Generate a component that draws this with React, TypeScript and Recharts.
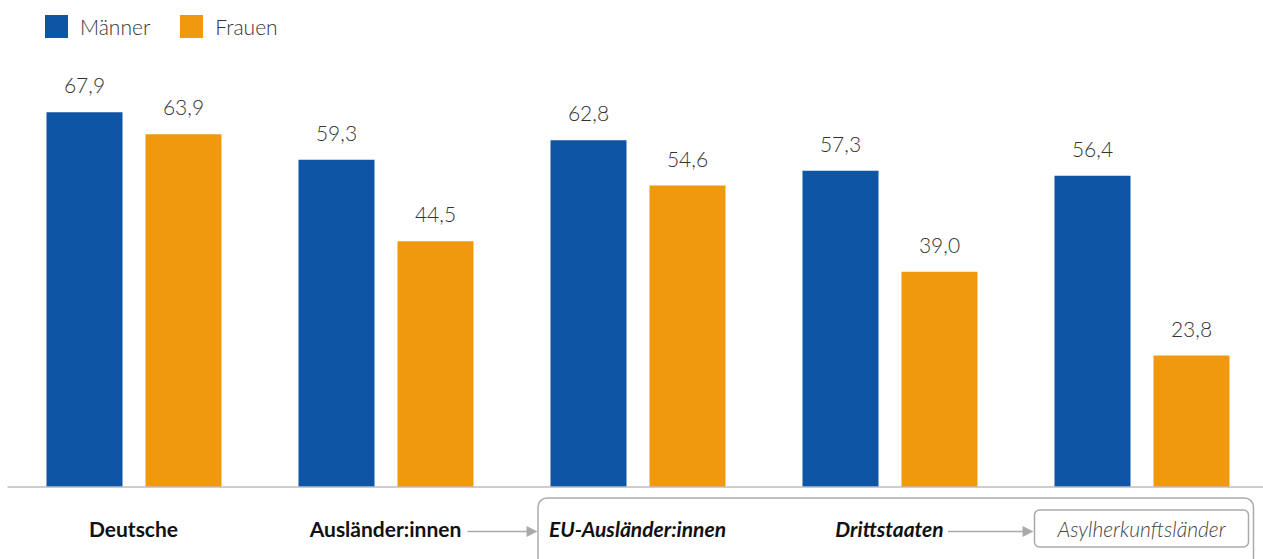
import React from 'react';
import { BarChart, Bar, XAxis, YAxis, LabelList, Legend } from 'recharts';

const categories = ['Deutsche', 'Ausländer:innen', 'EU-Ausländer:innen', 'Drittstaaten', 'Asylherkunftsländer'];
const maenner = [67.9, 59.3, 62.8, 57.3, 56.4];
const frauen = [63.9, 44.5, 54.6, 39.0, 23.8];
const seriesNames = ['Männer', 'Frauen'];

const data = categories.map((c, i) => ({ name: c, m: maenner[i], f: frauen[i] }));

const BLUE = '#0E55A6';
const ORANGE = '#F0990E';
const FONT = 'Lato, "Noto Sans", sans-serif';
const W = 1263;
const H = 559;
const MARGIN = { top: 45.4, right: -4.5, bottom: 0, left: 7.5 };
const STEP = (W - MARGIN.left - MARGIN.right) / categories.length;
const GRAY = '#AAAAAA';
const TICK_FS = 21;

const fmt = (v: any) => Number(v).toFixed(1).replace('.', ',');

const Arrow = ({ x1, x2, y }: { x1: number; x2: number; y: number }) => (
  <g>
    <line x1={x1} y1={y} x2={x2 - 10} y2={y} stroke={GRAY} strokeWidth={1.5} />
    <path d={`M${x2 - 11},${y - 5.5} L${x2},${y} L${x2 - 11},${y + 5.5} Z`} fill={GRAY} />
  </g>
);

const CategoryTick = (props: any) => {
  const { x, y, payload, index } = props;
  const ty = y + 50;
  const label = payload.value;
  if (index === 0) {
    return (
      <text x={x} y={ty} textAnchor="middle" fontFamily={FONT} fontSize={TICK_FS} fontWeight={700} fill="#111">{label}</text>
    );
  }
  if (index === 1) {
    return (
      <g>
        <text x={x} y={ty} textAnchor="middle" fontFamily={FONT} fontSize={TICK_FS} fontWeight={700} fill="#111">{label}</text>
        <Arrow x1={x + 82} x2={x + 152} y={y + 44.5} />
      </g>
    );
  }
  if (index === 2) {
    const left = x - 99.5;
    const right = x + 2 * STEP + 112;
    return (
      <g>
        <rect x={left} y={y + 11} width={right - left} height={120} rx={9} ry={9} fill="none" stroke={GRAY} strokeWidth={1.5} />
        <text x={x} y={ty} textAnchor="middle" fontFamily={FONT} fontSize={TICK_FS} fontWeight={700} fontStyle="italic" fill="#111">{label}</text>
      </g>
    );
  }
  if (index === 3) {
    return (
      <g>
        <text x={x} y={ty} textAnchor="middle" fontFamily={FONT} fontSize={TICK_FS} fontWeight={700} fontStyle="italic" fill="#111">{label}</text>
        <Arrow x1={x + 58.5} x2={x + 144} y={y + 44.5} />
      </g>
    );
  }
  return (
    <g>
      <rect x={x - 107} y={y + 23} width={214} height={37} rx={5} ry={5} fill="#fff" stroke={GRAY} strokeWidth={1.5} />
      <text x={x} y={ty} textAnchor="middle" fontFamily={FONT} fontSize={TICK_FS} fontWeight={300} fontStyle="italic" fill="#444">{label}</text>
    </g>
  );
};

const LegendContent = () => (
  <div style={{ display: 'flex', alignItems: 'center', fontFamily: FONT, fontSize: 21, fontWeight: 300, color: '#333' }}>
    {seriesNames.map((n, i) => (
      <div key={n} style={{ display: 'flex', alignItems: 'center', marginRight: i === 0 ? 30 : 0 }}>
        <div style={{ width: 23, height: 23, background: i === 0 ? BLUE : ORANGE, marginRight: 12 }} />
        <span style={{ lineHeight: '23px' }}>{n}</span>
      </div>
    ))}
  </div>
);

export default function App() {
  return (
    <div style={{ position: 'absolute', left: 0, top: 0, width: W, height: H }}>
      <BarChart width={W} height={H} data={data} margin={MARGIN} barGap={23} barSize={76}>
        <XAxis
          dataKey="name"
          tickLine={false}
          tickSize={0}
          tickMargin={0}
          height={72}
          axisLine={{ stroke: '#BDBDBD', strokeWidth: 1.5 }}
          tick={<CategoryTick />}
          interval={0}
        />
        <YAxis hide domain={[0, 80]} />
        <Legend
          layout="horizontal"
          verticalAlign="middle"
          align="center"
          content={<LegendContent />}
          wrapperStyle={{ position: 'absolute', top: 15, left: 45, width: 'auto', height: 23 }}
        />
        <Bar dataKey="m" name={seriesNames[0]} fill={BLUE} isAnimationActive={false}>
          <LabelList dataKey="m" position="top" offset={19} formatter={fmt} style={{ fontFamily: FONT, fontSize: 21, fontWeight: 300, fill: '#333' }} />
        </Bar>
        <Bar dataKey="f" name={seriesNames[1]} fill={ORANGE} isAnimationActive={false}>
          <LabelList dataKey="f" position="top" offset={19} formatter={fmt} style={{ fontFamily: FONT, fontSize: 21, fontWeight: 300, fill: '#333' }} />
        </Bar>
      </BarChart>
    </div>
  );
}
